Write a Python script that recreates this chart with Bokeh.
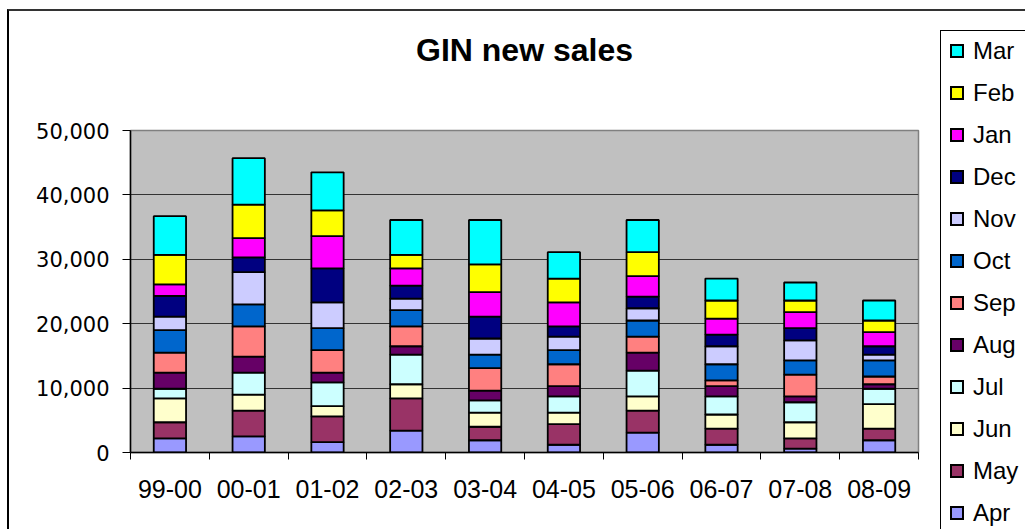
from bokeh.plotting import figure
from bokeh.layouts import row
from bokeh.models import (Range1d, FixedTicker, NumeralTickFormatter,
                          ColumnDataSource, Title, Div)
from bokeh.embed import file_html
from bokeh.resources import INLINE

seasons = ["99-00", "00-01", "01-02", "02-03", "03-04", "04-05",
           "05-06", "06-07", "07-08", "08-09"]
months = ["Apr", "May", "Jun", "Jul", "Aug", "Sep", "Oct", "Nov",
          "Dec", "Jan", "Feb", "Mar"]
colors = ["#9999FF", "#993366", "#FFFFCC", "#CCFFFF", "#660066", "#FF8080",
          "#0066CC", "#CCCCFF", "#000080", "#FF00FF", "#FFFF00", "#00FFFF"]

apr = [2200, 2500, 1600, 3400, 1900, 1200, 3100, 1200, 600, 1900]
may = [2500, 4000, 4000, 5000, 2100, 3200, 3400, 2500, 1600, 1800]
jun = [3700, 2500, 1600, 2200, 2200, 1800, 2200, 2200, 2500, 3800]
jul = [1500, 3400, 3700, 4600, 1900, 2500, 4000, 2800, 3100, 2400]
aug = [2500, 2500, 1500, 1300, 1500, 1600, 2800, 1600, 900, 700]
sep = [3100, 4700, 3500, 3100, 3500, 3400, 2500, 900, 3400, 1200]
oct_ = [3500, 3400, 3400, 2500, 2100, 2200, 2500, 2500, 2200, 2500]
nov = [2100, 5000, 4000, 1800, 2500, 2100, 1900, 2800, 3100, 900]
dec = [3200, 2300, 5300, 2000, 3400, 1600, 1800, 1800, 1900, 1300]
jan = [1800, 3000, 5000, 2700, 3800, 3700, 3200, 2500, 2500, 2200]
feb = [4600, 5200, 4000, 2100, 4300, 3700, 3700, 2800, 1800, 1800]
mar = [6000, 7200, 5900, 5400, 6900, 4100, 5000, 3400, 2800, 3100]

series = [apr, may, jun, jul, aug, sep, oct_, nov, dec, jan, feb, mar]
xpos = [i + 0.5 for i in range(len(seasons))]

data = {"x": xpos}
for m, s in zip(months, series):
    data[m] = s
source = ColumnDataSource(data)

H = 518
p = figure(width=926, height=H, output_backend="svg", toolbar_location=None,
           x_range=Range1d(0, len(seasons)), y_range=Range1d(0, 50000),
           min_border_left=121, min_border_right=17, min_border_top=119,
           min_border_bottom=77)

p.background_fill_color = "#C0C0C0"
p.border_fill_color = "white"
p.outline_line_color = "#808080"
p.outline_line_width = 1.5

# title: an empty spacer title next to the frame, the real title above it
p.title.text = ""
spacer = Title(text=" ", text_font_size="1px", standoff=55)
p.add_layout(spacer, "above")
main_title = Title(text="GIN new sales", text_font="Liberation Sans",
                   text_font_style="bold", text_font_size="32px",
                   text_color="black", align="center", standoff=10)
p.add_layout(main_title, "above")

renderers = p.vbar_stack(months, x="x", width=0.41, color=colors,
                         line_color="black", line_width=1.8, source=source)

p.xgrid.grid_line_color = None
p.ygrid.grid_line_color = "#333333"
p.ygrid.grid_line_width = 1

xa = p.xaxis[0]
xa.ticker = FixedTicker(ticks=xpos, minor_ticks=list(range(len(seasons) + 1)))
xa.major_label_overrides = {x: s for x, s in zip(xpos, seasons)}
xa.major_tick_line_color = None
xa.major_tick_out = 0
xa.major_tick_in = 0
xa.minor_tick_line_color = "black"
xa.minor_tick_out = 7
xa.minor_tick_in = 0
xa.minor_tick_line_width = 1
xa.axis_line_color = "black"
xa.axis_line_width = 1.5
xa.major_label_text_font = "Liberation Sans"
xa.major_label_text_font_size = "25px"
xa.major_label_text_color = "black"
xa.major_label_standoff = 20

ya = p.yaxis[0]
ya.ticker = FixedTicker(ticks=[0, 10000, 20000, 30000, 40000, 50000])
ya.formatter = NumeralTickFormatter(format="0,0")
ya.major_tick_out = 8
ya.major_tick_in = 0
ya.minor_tick_line_color = None
ya.axis_line_color = "black"
ya.axis_line_width = 1.5
ya.major_tick_line_color = "black"
ya.major_label_text_font = "DejaVu Sans"
ya.major_label_text_font_size = "21px"
ya.major_label_text_color = "black"
ya.major_label_standoff = 13

# legend (Mar at top ... Apr at bottom), built from months/colors
rows_html = []
for i, (m, c) in enumerate(reversed(list(zip(months, colors)))):
    cy = 40 + 42 * i
    rows_html.append(
        f'<div style="position:absolute;left:15px;top:{cy - 7}px;width:14px;'
        f'height:14px;box-sizing:border-box;border:2px solid #000;'
        f'background:{c};"></div>'
        f'<div style="position:absolute;left:38px;top:{cy - 14}px;height:28px;'
        f'line-height:28px;font-family:\'Liberation Sans\',Arial,sans-serif;'
        f'font-size:24px;color:#000;white-space:nowrap;">{m}</div>')
legend_html = (
    '<div style="position:relative;width:90px;height:518px;overflow:hidden;'
    'background:#fff;margin:0;padding:0;">'
    '<div style="position:absolute;left:5px;top:19px;width:130px;height:560px;'
    'box-sizing:border-box;border:1px solid #000;"></div>'
    + "".join(rows_html) + '</div>')
legend_div = Div(text=legend_html, width=90, height=H, margin=0)

layout = row(p, legend_div, styles={"border-top": "2px solid #333333",
                                    "border-left": "2px solid #000000",
                                    "margin-left": "7px", "margin-top": "9px"})

open("out.html", "w").write(file_html(layout, INLINE))
